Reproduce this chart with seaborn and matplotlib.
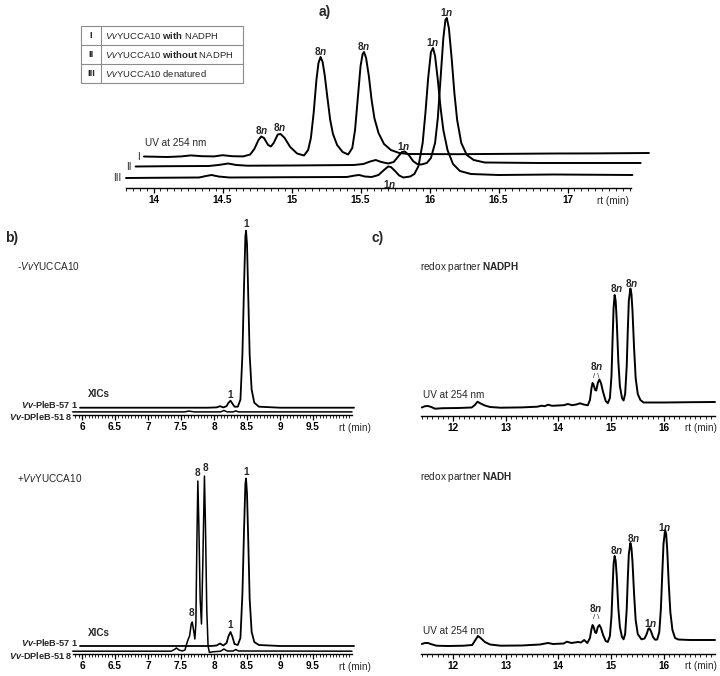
import matplotlib
matplotlib.use("Agg")
import matplotlib.pyplot as plt
import seaborn as sns
from matplotlib.ticker import FixedLocator, MultipleLocator, FuncFormatter
from matplotlib.patches import Rectangle

# ---- data (rt in min, signal in arbitrary units) ----
a_trace_I = [
    (13.93, 31.5), (14.10, 31.0), (14.20, 31.6), (14.27, 32.6), (14.35, 31.8), (14.44, 31.6),
    (14.50, 32.8), (14.57, 31.8), (14.65, 31.6), (14.70, 33.5), (14.73, 39), (14.76, 48),
    (14.78, 51.5), (14.80, 50), (14.83, 43), (14.85, 41.5), (14.87, 45), (14.90, 53.5),
    (14.92, 54), (14.95, 50), (14.99, 41), (15.04, 34.5), (15.09, 32.5), (15.12, 38),
    (15.14, 50), (15.16, 75), (15.18, 108), (15.195, 125), (15.21, 131), (15.225, 126),
    (15.24, 113), (15.26, 90), (15.28, 68), (15.30, 54), (15.33, 43), (15.37, 36),
    (15.41, 33.5), (15.44, 40), (15.46, 58), (15.48, 90), (15.50, 122), (15.515, 134),
    (15.525, 136), (15.54, 130), (15.56, 112), (15.58, 88), (15.60, 70), (15.63, 55),
    (15.67, 44), (15.72, 38), (15.78, 35), (15.85, 34), (16.2, 33.8), (16.6, 34.2),
    (16.9, 34.5), (17.2, 34.6), (17.59, 35),
]
a_trace_II = [
    (13.87, 21.5), (14.1, 21.8), (14.40, 22), (14.47, 23), (14.54, 24.5), (14.60, 23),
    (14.68, 22.3), (15.0, 22.5), (15.45, 23), (15.52, 24), (15.57, 26.5), (15.61, 28),
    (15.65, 26), (15.70, 24.5), (15.74, 26), (15.77, 31), (15.80, 36), (15.82, 36.5),
    (15.85, 33), (15.88, 27), (15.91, 24), (15.94, 23.5), (15.98, 25), (16.01, 30),
    (16.04, 45), (16.06, 70), (16.08, 110), (16.10, 150), (16.115, 168), (16.125, 170),
    (16.14, 160), (16.16, 130), (16.18, 95), (16.20, 68), (16.23, 45), (16.27, 33),
    (16.32, 28), (16.40, 25.5), (16.8, 25), (17.2, 25), (17.53, 25),
]
a_trace_III = [
    (13.80, 10), (14.1, 10.3), (14.33, 10.5), (14.38, 12), (14.42, 13), (14.47, 11.5),
    (14.55, 10.5), (15.0, 10.8), (15.40, 11), (15.46, 12.5), (15.49, 13), (15.53, 11.5),
    (15.58, 11), (15.63, 13), (15.67, 18), (15.70, 21.5), (15.72, 21), (15.75, 17),
    (15.78, 12.5), (15.81, 10.5), (15.86, 11.5), (15.89, 14), (15.92, 22), (15.95, 45),
    (15.97, 75), (15.99, 110), (16.01, 136), (16.025, 140), (16.04, 132), (16.06, 108),
    (16.08, 80), (16.10, 58), (16.13, 38), (16.17, 24), (16.22, 17), (16.30, 14),
    (16.5, 13), (16.9, 13.5), (17.47, 13),
]
a_trace_names = ["I", "II", "III"]
a_label_txt = ["8n", "8n", "8n", "8n", "1n", "1n", "1n", "1n"]
a_label_rt = [14.78, 14.91, 15.21, 15.52, 16.02, 16.125, 15.81, 15.71]
a_label_y = [58, 61, 137, 142, 146, 176, 42, 4]
table_rows = ["I", "II", "III"]
table_text = [
    r"$\mathit{Vv}$YUCCA10 $\mathbf{with}$ NADPH",
    r"$\mathit{Vv}$YUCCA10 $\mathbf{without}$ NADPH",
    r"$\mathit{Vv}$YUCCA10 denatured",
]

b_neg_pleb = [
    (5.97, 7), (7.0, 7), (7.9, 7), (8.04, 7.3), (8.09, 8.5), (8.14, 7.3), (8.19, 8.5),
    (8.22, 12), (8.25, 14), (8.28, 11), (8.31, 8), (8.36, 8), (8.40, 15), (8.43, 60),
    (8.455, 130), (8.475, 178), (8.485, 184), (8.50, 170), (8.52, 115), (8.54, 60),
    (8.57, 25), (8.61, 12), (8.68, 8), (9.0, 7), (10.12, 7),
]
b_neg_dpleb = [
    (5.86, 2.8), (7.55, 2.8), (7.62, 3.6), (7.70, 2.8), (8.10, 2.8), (8.15, 4.2),
    (8.20, 2.8), (8.29, 2.8), (8.33, 3.8), (8.37, 2.8), (10.09, 2.8),
]
b_pos_pleb = [
    (5.97, 8), (7.0, 8), (7.95, 8), (8.04, 8.5), (8.09, 10.5), (8.14, 8.5), (8.19, 11),
    (8.22, 18), (8.25, 22), (8.28, 17), (8.31, 10), (8.36, 9), (8.40, 16), (8.43, 60),
    (8.455, 125), (8.475, 170), (8.485, 175.5), (8.50, 160), (8.52, 110), (8.54, 55),
    (8.57, 22), (8.61, 12), (8.68, 9), (9.0, 8), (10.12, 8),
]
b_pos_dpleb = [
    (5.86, 2.8), (7.35, 2.8), (7.40, 4.5), (7.43, 6), (7.47, 4), (7.52, 3), (7.56, 4),
    (7.59, 11), (7.61, 15), (7.63, 18), (7.655, 30), (7.67, 32), (7.69, 24), (7.71, 15),
    (7.725, 30), (7.74, 110), (7.755, 173), (7.77, 130), (7.79, 55), (7.81, 30),
    (7.83, 90), (7.855, 178), (7.87, 130), (7.89, 45), (7.91, 8), (7.93, 1.5),
    (7.98, 2.2), (8.10, 2.8), (8.15, 5), (8.20, 3), (8.29, 3), (8.33, 4.5), (8.37, 3),
    (10.09, 2.8),
]
b_neg_label_txt = ["1", "1"]
b_neg_label_rt = [8.25, 8.485]
b_neg_label_y = [20, 191]
b_pos_label_txt = ["8", "8", "8", "1", "1"]
b_pos_label_rt = [7.66, 7.745, 7.865, 8.25, 8.485]
b_pos_label_y = [41, 181, 186, 29, 182]

c_nadph = [
    (11.40, 8.5), (11.46, 9.8), (11.52, 10), (11.58, 9), (11.65, 7.3), (11.80, 7.8),
    (12.10, 8), (12.35, 8.5), (12.41, 11), (12.46, 14.3), (12.52, 12.5), (12.60, 10.5),
    (12.70, 9), (12.90, 8.3), (13.30, 8.6), (13.60, 9.3), (13.68, 10.3), (13.74, 9.8),
    (13.80, 11.3), (13.88, 10.2), (14.10, 10.8), (14.18, 12), (14.26, 10.8), (14.34, 11.5),
    (14.41, 12.7), (14.48, 11.5), (14.56, 10.7), (14.60, 16), (14.63, 28), (14.65, 33),
    (14.67, 31), (14.70, 26), (14.72, 25.5), (14.75, 33), (14.78, 36.5), (14.81, 33),
    (14.85, 24), (14.90, 15), (14.94, 12.8), (14.98, 18), (15.01, 40), (15.03, 75),
    (15.05, 108), (15.07, 121), (15.09, 115), (15.11, 95), (15.14, 55), (15.17, 30),
    (15.21, 18), (15.24, 15.5), (15.27, 22), (15.30, 50), (15.32, 85), (15.34, 115),
    (15.37, 127.5), (15.39, 122), (15.41, 105), (15.44, 68), (15.47, 38), (15.51, 22),
    (15.56, 16), (15.62, 13.5), (16.0, 13.5), (16.5, 13.8), (16.98, 14),
]
c_nadh = [
    (11.40, 10), (11.46, 11), (11.52, 11), (11.58, 9.8), (11.68, 8.3), (11.90, 8),
    (12.20, 8.3), (12.36, 9), (12.42, 14), (12.47, 18), (12.52, 16), (12.60, 12),
    (12.70, 9.5), (12.90, 8.3), (13.30, 8.5), (13.65, 9.5), (13.80, 11), (13.90, 10),
    (14.10, 10.5), (14.16, 12.3), (14.25, 11), (14.37, 12), (14.43, 11.5), (14.49, 14),
    (14.55, 11), (14.60, 16), (14.63, 25), (14.65, 29), (14.67, 27), (14.70, 21.5),
    (14.72, 21), (14.75, 27), (14.78, 29), (14.81, 26), (14.85, 19), (14.90, 13),
    (14.94, 12), (14.98, 18), (15.01, 38), (15.03, 65), (15.05, 90), (15.07, 98),
    (15.09, 93), (15.11, 78), (15.14, 46), (15.17, 27), (15.21, 17), (15.24, 14.7),
    (15.27, 20), (15.30, 45), (15.32, 75), (15.34, 100), (15.37, 111), (15.39, 106),
    (15.41, 92), (15.44, 60), (15.47, 34), (15.51, 20), (15.58, 14.7), (15.64, 15.5),
    (15.68, 20), (15.71, 25), (15.73, 25.7), (15.76, 23), (15.80, 17), (15.84, 14.3),
    (15.88, 14.5), (15.92, 22), (15.95, 45), (15.98, 85), (16.00, 110), (16.03, 124),
    (16.05, 120), (16.07, 105), (16.10, 70), (16.13, 42), (16.17, 24), (16.22, 16),
    (16.28, 14.5), (16.5, 14), (16.98, 14),
]
c_top_label_txt = ["8n", "8n", "8n"]
c_top_label_rt = [14.73, 15.10, 15.40]
c_top_label_y = [50, 128, 133]
c_bot_label_txt = ["8n", "8n", "8n", "1n", "1n"]
c_bot_label_rt = [14.71, 15.11, 15.43, 15.76, 16.03]
c_bot_label_y = [46, 104, 116, 31, 127]

# ---- figure ----
W, H = 720, 676
sns.set_theme(style="white")
plt.rcParams["font.family"] = ["Liberation Sans", "DejaVu Sans"]
plt.rcParams["mathtext.fontset"] = "custom"
plt.rcParams["mathtext.rm"] = "Liberation Sans"
plt.rcParams["mathtext.it"] = "Liberation Sans:italic"
plt.rcParams["mathtext.bf"] = "Liberation Sans:bold"
plt.rcParams["mathtext.bfit"] = "Liberation Sans:italic:bold"

FS = 7.2
LW = 1.4


def peak_text(s):
    # "8n" -> bold 8 with bold-italic n
    if s.endswith("n"):
        return s[:-1] + r"$\mathbfit{n}$"
    return s


def add_panel(fig, x0, x1, y_axis, y_top, t0, t1, ticks, minor):
    ax = fig.add_axes([x0 / W, 1 - y_axis / H, (x1 - x0) / W, (y_axis - y_top) / H])
    ax.patch.set_alpha(0)
    ax.set_xlim(t0, t1)
    ax.set_ylim(0, y_axis - y_top)
    for s in ["top", "left", "right"]:
        ax.spines[s].set_visible(False)
    ax.spines["bottom"].set_linewidth(1.0)
    ax.spines["bottom"].set_color("black")
    ax.set_yticks([])
    ax.xaxis.set_major_locator(FixedLocator(ticks))
    ax.xaxis.set_minor_locator(MultipleLocator(minor))
    ax.xaxis.set_major_formatter(FuncFormatter(lambda v, p: f"{v:g}"))
    ax.tick_params(axis="x", which="major", direction="out", length=3.5, width=0.9,
                   pad=1.5, labelsize=FS, colors="black", bottom=True)
    ax.tick_params(axis="x", which="minor", direction="out", length=2, width=0.6,
                   colors="black", bottom=True)
    for lb in ax.get_xticklabels():
        lb.set_fontweight("bold")
    ax.set_xlabel("")
    ax.set_ylabel("")
    return ax


def trace(ax, pts, lw=LW):
    rt, val = zip(*pts)
    sns.lineplot(x=list(rt), y=list(val), ax=ax, color="black", linewidth=lw,
                 estimator=None, sort=False, clip_on=False)


def labels(ax, txt, rt, yy, fs=FS):
    for s, x, y in zip(txt, rt, yy):
        ax.text(x, y, peak_text(s), ha="center", va="center", fontsize=fs,
                fontweight="bold", clip_on=False)


fig = plt.figure(figsize=(W / 100, H / 100), dpi=100)

# panel a
ax_a = add_panel(fig, 126, 631, 188, 2, 13.80, 17.46, [14, 14.5, 15, 15.5, 16, 16.5, 17], 0.05)
for pts in (a_trace_I, a_trace_II, a_trace_III):
    trace(ax_a, pts)
for name, pts in zip(a_trace_names, (a_trace_I, a_trace_II, a_trace_III)):
    ax_a.text(pts[0][0] - 0.03, pts[0][1], name, ha="right", va="center", fontsize=FS, clip_on=False)
labels(ax_a, a_label_txt, a_label_rt, a_label_y)
ax_a.text(13.94, 45, "UV at 254 nm", ha="left", va="center", fontsize=FS)
ax_a.text(17.33, -13, "rt (min)", ha="center", va="center", fontsize=FS, clip_on=False)

# panel b
b_ticks = [6, 6.5, 7, 7.5, 8, 8.5, 9, 9.5]
ax_b1 = add_panel(fig, 73, 352, 414.7, 220, 5.864, 10.09, b_ticks, 0.05)
ax_b2 = add_panel(fig, 73, 352, 654, 460, 5.864, 10.09, b_ticks, 0.05)
for ax, pleb, dpleb in ((ax_b1, b_neg_pleb, b_neg_dpleb), (ax_b2, b_pos_pleb, b_pos_dpleb)):
    trace(ax, dpleb, lw=1.1)
    trace(ax, pleb, lw=1.3)
    ax.text(6.09, 21, "XICs", ha="left", va="center", fontsize=FS, fontweight="bold")
    ax.text(5.94, pleb[0][1] + 3, r"$\mathbfit{Vv}$-PleB-57 $\mathbf{1}$", ha="right",
            va="center", fontsize=6.6, fontweight="bold", clip_on=False)
    ax.text(5.85, -1.5, r"$\mathbfit{Vv}$-DPleB-51 $\mathbf{8}$", ha="right",
            va="center", fontsize=6.6, fontweight="bold", clip_on=False)
    ax.text(10.14, -13, "rt (min)", ha="center", va="center", fontsize=FS, clip_on=False)
labels(ax_b1, b_neg_label_txt, b_neg_label_rt, b_neg_label_y)
labels(ax_b2, b_pos_label_txt, b_pos_label_rt, b_pos_label_y)

# panel c
c_ticks = [12, 13, 14, 15, 16]
ax_c1 = add_panel(fig, 421, 715, 416, 270, 11.385, 16.98, c_ticks, 0.1)
ax_c2 = add_panel(fig, 421, 715, 654, 500, 11.385, 16.98, c_ticks, 0.1)
trace(ax_c1, c_nadph)
trace(ax_c2, c_nadh)
labels(ax_c1, c_top_label_txt, c_top_label_rt, c_top_label_y)
labels(ax_c2, c_bot_label_txt, c_bot_label_rt, c_bot_label_y)
for ax, x, y in ((ax_c1, 14.72, 39), (ax_c2, 14.71, 36.5)):
    ax.text(x, y, "/ \\", ha="center", va="center", fontsize=5.5)
for ax, yy in ((ax_c1, 21), (ax_c2, 23)):
    ax.text(11.43, yy, "UV at 254 nm", ha="left", va="center", fontsize=FS)
    ax.text(16.72, -12, "rt (min)", ha="center", va="center", fontsize=FS, clip_on=False)

# overlay in pixel coordinates: panel letters, table, headings
ov = fig.add_axes([0, 0, 1, 1])
ov.set_xlim(0, W)
ov.set_ylim(H, 0)
ov.axis("off")
ov.patch.set_alpha(0)
for txt, x, y in (("a)", 325, 12), ("b)", 12, 238), ("c)", 378, 238)):
    ov.text(x, y, txt, ha="center", va="center", fontsize=10, fontweight="bold")

tx0, tx1, tcol, ty0, row_h = 81, 243, 101, 26, 19
ov.add_patch(Rectangle((tx0, ty0), tx1 - tx0, row_h * 3, fill=False, edgecolor="#8c8c8c", lw=0.8))
ov.plot([tcol, tcol], [ty0, ty0 + 3 * row_h], color="#8c8c8c", lw=0.8)
for i, (r, t) in enumerate(zip(table_rows, table_text)):
    yc = ty0 + row_h * (i + 0.5)
    if i > 0:
        ov.plot([tx0, tx1], [ty0 + row_h * i] * 2, color="#8c8c8c", lw=0.8)
    ov.text((tx0 + tcol) / 2, yc, r, ha="center", va="center", fontsize=6.8, fontweight="bold")
    ov.text(tcol + 4, yc, t, ha="left", va="center", fontsize=6.8)

ov.text(17, 266, r"-$\mathit{Vv}$YUCCA10", ha="left", va="center", fontsize=FS)
ov.text(17, 478, r"+$\mathit{Vv}$YUCCA10", ha="left", va="center", fontsize=FS)
ov.text(420, 267, r"redox partner $\mathbf{NADPH}$", ha="left", va="center", fontsize=FS)
ov.text(420, 477, r"redox partner $\mathbf{NADH}$", ha="left", va="center", fontsize=FS)

fig.savefig("out.png", dpi=100)
plt.close(fig)
